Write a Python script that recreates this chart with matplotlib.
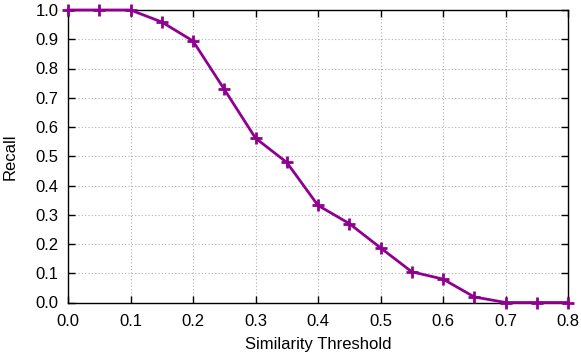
import matplotlib
matplotlib.use("Agg")
import matplotlib.pyplot as plt
import numpy as np

plt.rcParams['font.family'] = ['Liberation Sans', 'DejaVu Sans']

thresholds = [0.0, 0.05, 0.1, 0.15, 0.2, 0.25, 0.3, 0.35, 0.4, 0.45, 0.5, 0.55, 0.6, 0.65, 0.7, 0.75, 0.8]
recall = [1.0, 1.0, 1.0, 0.959, 0.894, 0.729, 0.562, 0.479, 0.332, 0.27, 0.187, 0.105, 0.08, 0.019, 0.0, 0.0, 0.0]

xticks = [0.0, 0.1, 0.2, 0.3, 0.4, 0.5, 0.6, 0.7, 0.8]
yticks = [0.0, 0.1, 0.2, 0.3, 0.4, 0.5, 0.6, 0.7, 0.8, 0.9, 1.0]

fig = plt.figure(figsize=(5.81, 3.55), dpi=100)
ax = fig.add_axes([68/581, 1 - 302.5/355, (568-68)/581, (302.5-10)/355])

ax.plot(thresholds, recall, color='#900090', lw=2, marker='+', ms=9, mew=2, clip_on=False, zorder=3)

ax.set_xlim(0, 0.8)
ax.set_ylim(0, 1.0)
ax.set_xticks(xticks)
ax.set_yticks(yticks)
ax.set_xticklabels([f"{v:.1f}" for v in xticks])
ax.set_yticklabels([f"{v:.1f}" for v in yticks])
ax.tick_params(direction='in', length=5, width=1, top=True, right=True, labelsize=12, pad=7, colors='black')
ax.tick_params(axis='x', pad=8.5)
ax.grid(True, color='#b0b0b0', linestyle=(0, (1, 2)), linewidth=0.8)
for s in ax.spines.values():
    s.set_linewidth(1)
ax.set_xlabel('Similarity Threshold', fontsize=12)
ax.set_ylabel('Recall', fontsize=12)
ax.xaxis.set_label_coords(0.5, (302.5 - 337) / 292.5)
ax.yaxis.set_label_coords((18 - 68) / 500, 0.5)

fig.savefig('out.png', dpi=100)
